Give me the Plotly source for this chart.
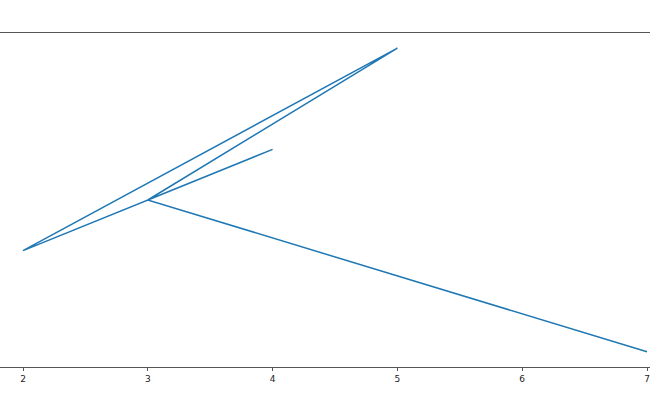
import plotly.graph_objects as go

# data path (x, y)
x_vals = [4, 3, 5, 2, 3, 7]
y_vals = [4, 3, 6, 2, 3, 0]
x_ticks = [2, 3, 4, 5, 6, 7]

fig = go.Figure()
fig.add_trace(go.Scatter(x=x_vals, y=y_vals, mode='lines',
                         line=dict(color='#1f77b4', width=1.5),
                         cliponaxis=False))

fig.update_layout(
    width=650, height=400,
    margin=dict(l=0, r=0, t=33, b=33, pad=0),
    plot_bgcolor='white', paper_bgcolor='white',
    showlegend=False,
    font=dict(family='DejaVu Sans', size=9, color='#222'),
)
fig.update_xaxes(range=[1.8157, 7.024], tickvals=x_ticks, showgrid=False,
                 zeroline=False, showline=True, linecolor='#555', linewidth=1,
                 mirror=True, ticks='outside', ticklen=3, tickcolor='#555',
                 tickwidth=1, automargin=False)
fig.update_yaxes(range=[-0.3, 6.3], showgrid=False, zeroline=False,
                 showticklabels=False, showline=False, automargin=False)

# page body has a default 8px margin, drop it so the figure sits at 0,0
fig.write_html("out.html", config={'displayModeBar': False},
               post_script="document.body.style.margin='0';")
